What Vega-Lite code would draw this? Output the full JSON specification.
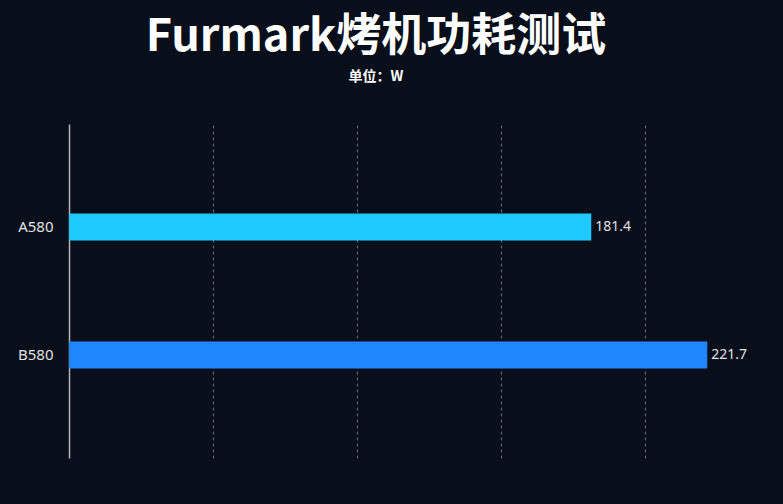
{
  "$schema": "https://vega.github.io/schema/vega-lite/v6.json",
  "autosize": {"type": "none"},
  "padding": {"left": 69, "top": 124, "right": 0, "bottom": 46},
  "width": 714,
  "height": 334,
  "background": "#080e1a",
  "title": {
    "text": "Furmark烤机功耗测试",
    "subtitle": "单位：W",
    "anchor": "middle",
    "frame": "group",
    "dx": -50,
    "offset": 40,
    "font": "Noto Sans CJK SC",
    "fontSize": 45,
    "fontWeight": "bold",
    "color": "#ffffff",
    "subtitleFont": "Noto Sans CJK SC",
    "subtitleFontSize": 14,
    "subtitleFontWeight": "bold",
    "subtitleColor": "#ffffff",
    "subtitlePadding": 10
  },
  "config": {"view": {"stroke": null}},
  "data": {
    "values": [
      {"model": "A580", "power": 181.4},
      {"model": "B580", "power": 221.7}
    ]
  },
  "encoding": {
    "y": {
      "field": "model",
      "type": "nominal",
      "sort": null,
      "title": null,
      "scale": {"paddingInner": 0, "paddingOuter": 0.305},
      "axis": {
        "domainColor": "#b4b4b4",
        "domainWidth": 1.5,
        "ticks": false,
        "labelColor": "#e2e2e2",
        "labelFont": "Noto Sans",
        "labelFontSize": 15,
        "labelPadding": 16
      }
    },
    "x": {
      "field": "power",
      "type": "quantitative",
      "title": null,
      "scale": {"domain": [0, 248], "nice": false},
      "axis": {
        "values": [50, 100, 150, 200],
        "labels": false,
        "ticks": false,
        "domain": false,
        "grid": true,
        "gridColor": "#5f6673",
        "gridDash": [3, 3],
        "gridWidth": 1.2
      }
    }
  },
  "layer": [
    {
      "mark": {"type": "bar", "size": 27},
      "encoding": {
        "color": {
          "field": "model",
          "type": "nominal",
          "scale": {"domain": ["A580", "B580"], "range": ["#1ec9ff", "#1f86ff"]},
          "legend": null
        }
      }
    },
    {
      "mark": {
        "type": "text",
        "align": "left",
        "dx": 4,
        "font": "Noto Sans",
        "fontSize": 14,
        "color": "#e2e2e2"
      },
      "encoding": {"text": {"field": "power", "type": "quantitative", "format": ".1f"}}
    }
  ]
}
